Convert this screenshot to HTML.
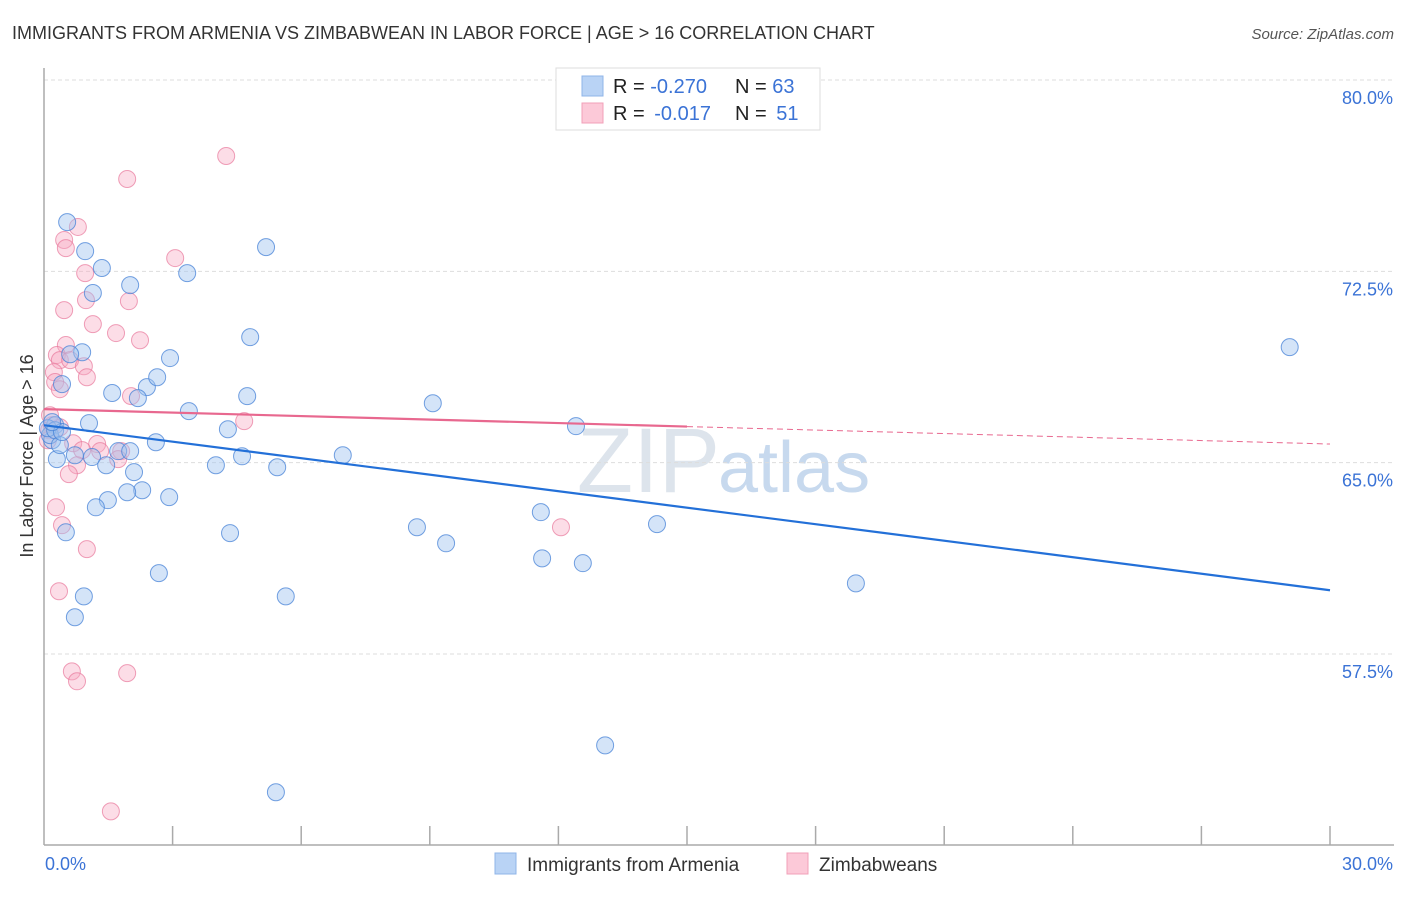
<!DOCTYPE html>
<html><head><meta charset="utf-8"><style>
body{margin:0;background:#fff;font-family:"Liberation Sans",sans-serif;}
svg text{font-family:"Liberation Sans",sans-serif;}
</style></head><body>
<svg id="chart" width="1406" height="892" viewBox="0 0 1406 892" xmlns="http://www.w3.org/2000/svg">
<text x="12" y="39" font-size="18" fill="#333">IMMIGRANTS FROM ARMENIA VS ZIMBABWEAN IN LABOR FORCE | AGE &gt; 16 CORRELATION CHART</text>
<text x="1394" y="39" font-size="15" font-style="italic" fill="#555" text-anchor="end">Source: ZipAtlas.com</text>
<text x="720" y="492" font-size="92" fill="#dde4ec" text-anchor="end" font-family="Liberation Serif">ZIP</text>
<text x="718" y="492" font-size="72" fill="#c7d9ee">atlas</text>
<g id="grid"></g>
<g id="axes"></g>
<g id="pts"></g>
<g id="trend"></g>
<text transform="translate(33,456) rotate(-90)" font-size="18" fill="#333" text-anchor="middle">In Labor Force | Age &gt; 16</text>
<g>
<rect x="556" y="68" width="264" height="62" fill="#fff" stroke="#ddd"/>
<rect x="582" y="76" width="21" height="20" fill="#b9d3f5" stroke="#8fb4e8"/>
<rect x="582" y="103" width="21" height="20" fill="#fcc9d8" stroke="#f2a0b8"/>
<text x="613" y="93" font-size="20" fill="#222">R = <tspan fill="#3b73d6">-0.270</tspan></text>
<text x="735" y="93" font-size="20" fill="#222">N = <tspan fill="#3b73d6">63</tspan></text>
<text x="613" y="120" font-size="20" fill="#222">R = <tspan fill="#3b73d6" dx="4">-0.017</tspan></text>
<text x="735" y="120" font-size="20" fill="#222">N = <tspan fill="#3b73d6" dx="4">51</tspan></text>
</g>
<g>
<rect x="495" y="853" width="21" height="21" fill="#b9d3f5" stroke="#8fb4e8"/>
<text x="527" y="871" font-size="19" fill="#333">Immigrants from Armenia</text>
<rect x="787" y="853" width="21" height="21" fill="#fcc9d8" stroke="#f2a0b8"/>
<text x="819" y="871" font-size="19" fill="#333">Zimbabweans</text>
</g>
</svg>
<script>
const xTickValues=[0,3,6,9,12,15,18,21,24,27,30];
const yTickValues=[80,72.5,65,57.5];
const yTickLabels=["80.0%","72.5%","65.0%","57.5%"];
const xEndLabels=["0.0%","30.0%"];
const armeniaX=[0.54,0.96,1.35,1.14,2.01,3.34,5.18,4.81,2.94,0.89,0.61,0.42,1.59,2.40,2.64,2.19,3.38,4.74,9.07,1.05,0.26,4.29,2.61,1.73,2.01,1.12,0.30,1.45,2.10,4.01,4.62,5.44,6.97,12.41,2.29,1.94,1.49,1.21,2.92,0.51,4.34,2.68,0.93,0.72,5.64,8.70,9.38,11.59,11.62,12.57,14.30,18.94,29.06,13.09,5.41,0.19,0.14,0.09,0.26,0.37,0.42,0.19,0.72];
const armeniaY=[74.43,73.29,72.63,71.65,71.96,72.43,73.45,69.92,69.10,69.33,69.25,68.08,67.73,67.96,68.35,67.53,67.02,67.61,67.33,66.55,66.47,66.31,65.80,65.45,65.45,65.22,65.14,64.90,64.63,64.90,65.25,64.82,65.29,66.43,63.92,63.84,63.53,63.25,63.65,62.27,62.24,60.67,59.76,58.94,59.76,62.47,61.84,63.06,61.25,61.06,62.59,60.27,69.53,53.92,52.08,65.88,66.08,66.35,66.27,65.69,66.20,66.59,65.29];
const zimX=[4.25,1.94,0.79,0.47,0.51,0.96,0.98,1.98,0.47,1.14,1.68,2.24,3.06,0.51,0.30,0.37,0.61,0.93,1.00,0.23,0.26,0.37,4.67,2.03,0.68,1.24,0.37,0.12,0.19,0.89,1.80,1.73,0.77,0.58,0.28,0.42,1.00,12.06,0.35,0.65,0.77,1.94,1.56,1.31,0.14,0.09];
const zimY=[77.02,76.12,74.24,73.73,73.41,72.43,71.37,71.33,70.98,70.43,70.08,69.80,73.02,69.61,69.22,69.02,69.02,68.78,68.35,68.55,68.16,67.88,66.63,67.61,65.76,65.73,66.39,66.27,66.47,65.49,65.45,65.14,64.90,64.55,63.25,62.55,61.61,62.47,59.96,56.82,56.43,56.75,51.33,65.45,66.86,65.88];
const armeniaTrend=[66.47,60.0];
const zimTrend=[67.10,65.73];
const zimSolidEnd=15;
const NS="http://www.w3.org/2000/svg";
const X0=44,X1=1330,Y0=80,YB=845;
function sx(v){return X0+(v-0)/30*(X1-X0);}
function sy(v){return Y0+(80-v)*(654-Y0)/22.5;}
function mk(tag,attrs,parent){const e=document.createElementNS(NS,tag);for(const k in attrs)e.setAttribute(k,attrs[k]);parent.appendChild(e);return e;}
const grid=document.getElementById('grid'),axes=document.getElementById('axes'),pts=document.getElementById('pts'),trend=document.getElementById('trend');
yTickValues.forEach((v,i)=>{
  const l=mk('line',{x1:X0,x2:1394,y1:sy(v),y2:sy(v),stroke:'#ddd','stroke-dasharray':'4,3'},grid);
  
  
  const t=mk('text',{x:1393,y:sy(v)+24,'font-size':18,fill:'#3b73d6','text-anchor':'end'},axes);
  t.textContent=yTickLabels[i];
  
  
});
let a=mk('line',{x1:X0,x2:X0,y1:68,y2:YB,stroke:'#aaa','stroke-width':1.5},axes);


a=mk('line',{x1:X0,x2:1394,y1:YB,y2:YB,stroke:'#aaa','stroke-width':1.5},axes);


xTickValues.slice(1).forEach(v=>{
  const t=mk('line',{x1:sx(v),x2:sx(v),y1:826,y2:YB,stroke:'#aaa','stroke-width':1.5},axes);
  
  
});
let xl=mk('text',{x:45,y:870,'font-size':18,fill:'#3b73d6'},axes);xl.textContent=xEndLabels[0];


xl=mk('text',{x:1393,y:870,'font-size':18,fill:'#3b73d6','text-anchor':'end'},axes);xl.textContent=xEndLabels[1];


zimX.forEach((x,i)=>{
  const c=mk('circle',{cx:sx(x),cy:sy(zimY[i]),r:8.5,fill:'rgba(248,170,195,0.4)',stroke:'rgba(232,120,155,0.7)','stroke-width':1},pts);
  
  
});
armeniaX.forEach((x,i)=>{
  const c=mk('circle',{cx:sx(x),cy:sy(armeniaY[i]),r:8.5,fill:'rgba(160,195,240,0.45)',stroke:'rgba(70,130,215,0.75)','stroke-width':1},pts);
  
  
});
let tl=mk('line',{x1:sx(0),y1:sy(armeniaTrend[0]),x2:sx(30),y2:sy(armeniaTrend[1]),stroke:'#2370d8','stroke-width':2.2},trend);


const zm=zimTrend[0]+(zimTrend[1]-zimTrend[0])*zimSolidEnd/30;
tl=mk('line',{x1:sx(0),y1:sy(zimTrend[0]),x2:sx(zimSolidEnd),y2:sy(zm),stroke:'#e8688f','stroke-width':2.2},trend);


tl=mk('line',{x1:sx(zimSolidEnd),y1:sy(zm),x2:sx(30),y2:sy(zimTrend[1]),stroke:'#e8688f','stroke-width':1,'stroke-dasharray':'6,4'},trend);


</script>
</body></html>
